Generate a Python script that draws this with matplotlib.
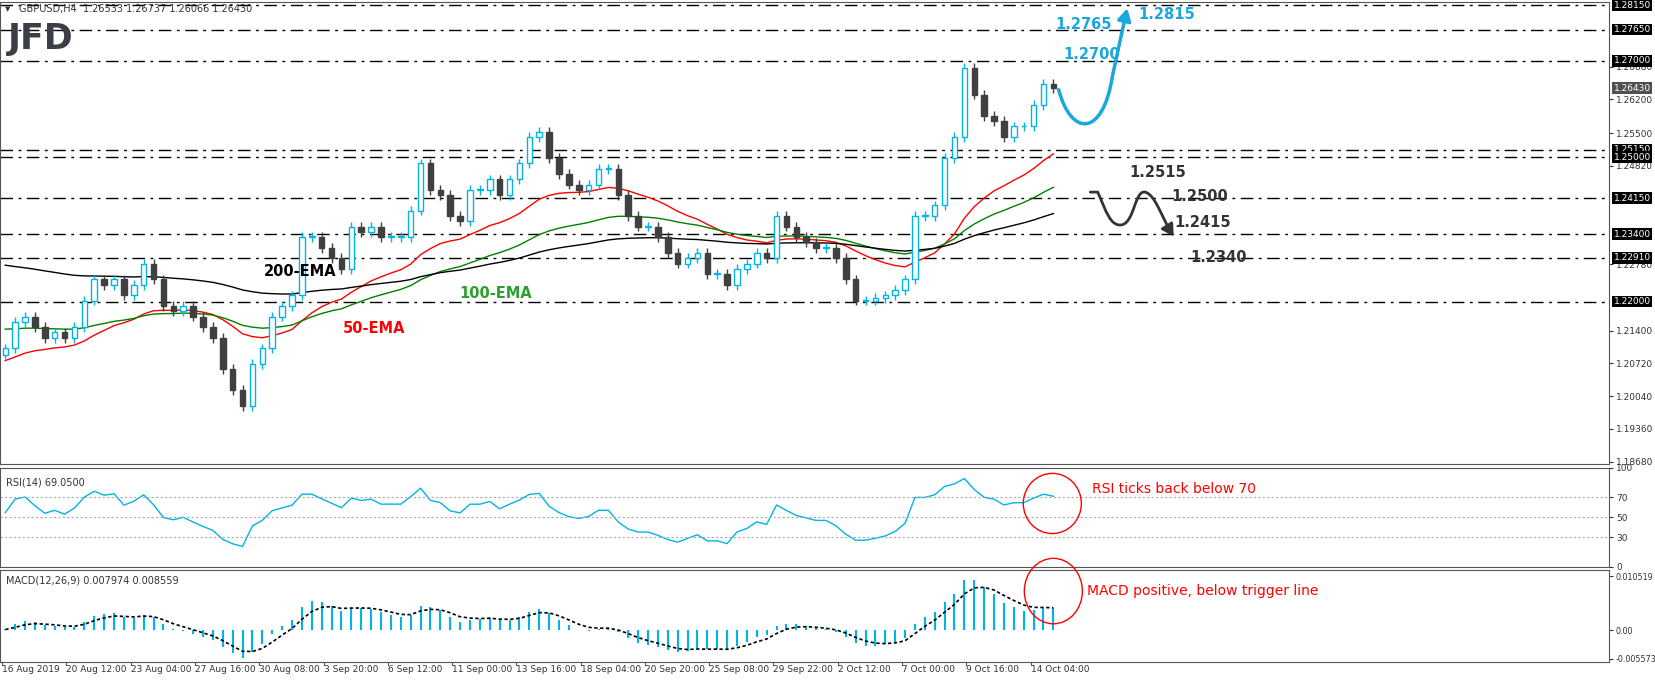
import numpy as np
import matplotlib
matplotlib.use("Agg")
import matplotlib.pyplot as plt
from matplotlib.path import Path
from matplotlib.patches import FancyArrowPatch, Ellipse, Rectangle

closes = [1.2103,1.2158,1.2169,1.2147,1.2125,1.2136,1.2125,1.2147,1.2202,1.2246,1.2235,1.2246,1.2213,1.2235,1.2279,1.2246,
1.2191,1.2180,1.2191,1.2169,1.2147,1.2125,1.2060,1.2016,1.1983,1.2071,1.2103,1.2169,1.2191,1.2213,1.2334,1.2334,1.2312,
1.2290,1.2268,1.2356,1.2345,1.2356,1.2334,1.2334,1.2334,1.2389,1.2487,1.2432,1.2421,1.2378,1.2367,1.2432,1.2432,1.2454,
1.2421,1.2454,1.2487,1.2542,1.2553,1.2498,1.2465,1.2443,1.2432,1.2443,1.2476,1.2476,1.2421,1.2378,1.2356,1.2356,1.2334,
1.2301,1.2279,1.2290,1.2301,1.2257,1.2257,1.2235,1.2268,1.2279,1.2301,1.2290,1.2378,1.2356,1.2334,1.2323,1.2312,1.2312,
1.2290,1.2246,1.2202,1.2202,1.2207,1.2213,1.2224,1.2246,1.2378,1.2378,1.2400,1.2498,1.2542,1.2685,1.2630,1.2586,1.2575,
1.2542,1.2564,1.2564,1.2608,1.2652,1.2643]
first_open = 1.2090
ema_seeds = {"50": 1.2075, "100": 1.2145, "200": 1.2280}
level_lines = [1.2815, 1.2765, 1.2700, 1.2515, 1.2500, 1.2415, 1.2340, 1.2291, 1.2200]
plain_ticks = [1.2688, 1.2620, 1.2550, 1.2482, 1.2278, 1.2140, 1.2072, 1.2004, 1.1936, 1.1868]
date_labels = ["16 Aug 2019","20 Aug 12:00","23 Aug 04:00","27 Aug 16:00","30 Aug 08:00","3 Sep 20:00",
               "6 Sep 12:00","11 Sep 00:00","13 Sep 16:00","18 Sep 04:00","20 Sep 20:00","25 Sep 08:00",
               "29 Sep 22:00","2 Oct 12:00","7 Oct 00:00","9 Oct 16:00","14 Oct 04:00"]

W, H = 1655, 680
S = 1655 / 1568
fig = plt.figure(figsize=(W/100, H/100), dpi=100)
def fx(x): return x * S / W
def fy(y): return 1 - y * S / H
RIGHT = 1609 / S
def rect(top, bot): return [0.0, fy(bot), fx(RIGHT), (bot-top)*S/H]

ax = fig.add_axes(rect(2, 440))
axr = fig.add_axes(rect(443, 537))
axm = fig.add_axes(rect(540, 627))

c = np.array(closes)
N = len(c)
o = np.concatenate([[first_open], c[:-1]])
hi = np.maximum(o, c) + 0.0010
lo = np.minimum(o, c) - 0.0010
x = np.arange(N)
sp = 993 / (N - 1)
xl = (-5 / sp, (RIGHT - 5) / sp)

UP = "#00b4e6"
DN = "#404040"
for i in range(N):
    up = c[i] >= o[i]
    col = UP if up else DN
    ax.vlines(x[i], lo[i], hi[i], color=col, lw=1, zorder=3)
    b0, b1 = min(o[i], c[i]), max(o[i], c[i])
    ax.add_patch(Rectangle((x[i]-0.28, b0), 0.56, max(b1-b0, 0.00015),
                 facecolor="white" if up else DN, edgecolor=col, lw=1, zorder=4))

def ema(vals, span, seed):
    a = 2 / (span + 1); out = []; e = seed
    for v in vals:
        e = a * v + (1 - a) * e; out.append(e)
    return np.array(out)
k = 3.8 / sp
ax.plot(x, ema(c, 50*k, ema_seeds["50"]), color="red", lw=1, zorder=2)
ax.plot(x, ema(c, 100*k, ema_seeds["100"]), color="green", lw=1, zorder=2)
ax.plot(x, ema(c, 200*k, ema_seeds["200"]), color="black", lw=1, zorder=2)

for lv in level_lines:
    ax.axhline(lv, color="black", lw=1, ls=(0, (9, 4, 2, 4)), zorder=1)

ax.set_ylim(1.1862, 1.2822)
for a in (ax, axr, axm):
    a.set_xlim(*xl)
    a.yaxis.tick_right()
    a.tick_params(axis="y", labelsize=6.5, colors="#333333", length=3, pad=2)
    a.tick_params(axis="x", bottom=False, labelbottom=False)
    for s in a.spines.values(): s.set_color("#555555")
ax.set_yticks(plain_ticks)
ax.set_yticklabels([f"{v:.5f}" for v in plain_ticks])
for lv in level_lines:
    ax.text(1.003, lv, f"{lv:.5f}", transform=ax.get_yaxis_transform(), fontsize=6.5, color="white",
            va="center", ha="left", bbox=dict(boxstyle="square,pad=0.15", fc="black", ec="none"), zorder=10, clip_on=False)
ax.text(1.003, c[-1], f"{c[-1]:.5f}", transform=ax.get_yaxis_transform(), fontsize=6.5, color="white",
        va="center", ha="left", bbox=dict(boxstyle="square,pad=0.15", fc="#505050", ec="none"), clip_on=False)

fig.text(fx(18), fy(9), "GBPUSD,H4  1.26533 1.26737 1.26066 1.26430", fontsize=7, color="#333333", va="center")
fig.text(fx(5), fy(9), "\u25bc", fontsize=5, color="#333333", va="center")
fig.text(fx(7), fy(37), "JFD", fontsize=25, fontweight="bold", color="#3a3f47", va="center")

fig.text(fx(250), fy(257), "200-EMA", fontsize=10.5, fontweight="bold", color="black", va="center")
fig.text(fx(435), fy(278), "100-EMA", fontsize=10.5, fontweight="bold", color="#2ca02c", va="center")
fig.text(fx(325), fy(311), "50-EMA", fontsize=10.5, fontweight="bold", color="red", va="center")

CY = "#1aa7dc"
def fpath(pts, codes):
    return Path([(fx(a), fy(b)) for a, b in pts], codes)
C4 = Path.CURVE4
p1 = fpath([(1003, 85), (1015, 130), (1045, 130), (1054, 72), (1060, 45), (1064, 25), (1068, 8)],
           [Path.MOVETO, C4, C4, C4, C4, C4, C4])
fig.patches.append(FancyArrowPatch(path=p1, arrowstyle="-|>,head_length=7,head_width=4", color=CY, lw=2.5,
                                   transform=fig.transFigure))
p2 = fpath([(1033, 182), (1040, 182), (1040, 182), (1040, 182), (1048, 200), (1052, 215), (1063, 213),
            (1075, 210), (1075, 180), (1085, 182), (1095, 185), (1100, 205), (1112, 224)],
           [Path.MOVETO, C4, C4, C4, C4, C4, C4, C4, C4, C4, C4, C4, C4])
fig.patches.append(FancyArrowPatch(path=p2, arrowstyle="-|>,head_length=7,head_width=4", color="#333333", lw=2,
                                   transform=fig.transFigure))
for tx, ty, s, col in [(1000, 23, "1.2765", CY), (1078, 14, "1.2815", CY), (1007, 52, "1.2700", CY),
                       (1070, 163, "1.2515", "#333333"), (1110, 186, "1.2500", "#333333"),
                       (1113, 211, "1.2415", "#333333"), (1128, 244, "1.2340", "#333333")]:
    fig.text(fx(tx), fy(ty), s, fontsize=10.5, fontweight="bold", color=col, va="center")

# RSI
d = np.diff(np.concatenate([[first_open], c]))
per = 14 * k * 1.6
g = ema(np.maximum(d, 0), 2*per-1, 0.0008); l_ = ema(np.maximum(-d, 0), 2*per-1, 0.0008)
rsi = 100 - 100 / (1 + g / np.maximum(l_, 1e-9))
axr.plot(x, rsi, color=UP, lw=1)
for lv in (70, 50, 30):
    axr.axhline(lv, color="#aaaaaa", lw=0.8, ls=(0, (2, 2)))
axr.set_ylim(0, 100); axr.set_yticks([0, 30, 50, 70, 100])
axr.text(0.004, 0.82, "RSI(14) 69.0500", transform=axr.transAxes, fontsize=7, color="#333333")

# MACD
m = ema(c, 12*k, 1.2103) - ema(c, 26*k, 1.2100)
sig = ema(m, 9*k, 0.0)
axm.vlines(x, 0, m, color=UP, lw=1.5)
axm.plot(x, sig, color="black", lw=1.2, ls=(0, (2, 1.5)))
axm.set_ylim(-0.0062, 0.0118)
axm.set_yticks([-0.005573, 0.0, 0.010519]); axm.set_yticklabels(["-0.005573", "0.00", "0.010519"])
axm.tick_params(axis="y", labelsize=5.8)
axm.text(0.004, 0.85, "MACD(12,26,9) 0.007974 0.008559", transform=axm.transAxes, fontsize=7, color="#333333")

for ex, ey, ew, eh in [(997, 477, 55, 57), (998, 560, 55, 62)]:
    fig.patches.append(Ellipse((fx(ex), fy(ey)), ew*S/W, eh*S/H, transform=fig.transFigure, fill=False, ec="red", lw=1))
fig.text(fx(1035), fy(463), "RSI ticks back below 70", fontsize=10, color="red", va="center")
fig.text(fx(1030), fy(560), "MACD positive, below trigger line", fontsize=10, color="red", va="center")

for i, lab in enumerate(date_labels):
    xp = 2 + 60.9 * i
    fig.text(fx(xp), fy(634), lab, fontsize=6.5, color="#333333", va="center", ha="left")
    fig.lines.append(plt.Line2D([fx(xp), fx(xp)], [fy(627), fy(630)], color="#555555", lw=0.8,
                                transform=fig.transFigure))

fig.savefig("out.png", dpi=100)
